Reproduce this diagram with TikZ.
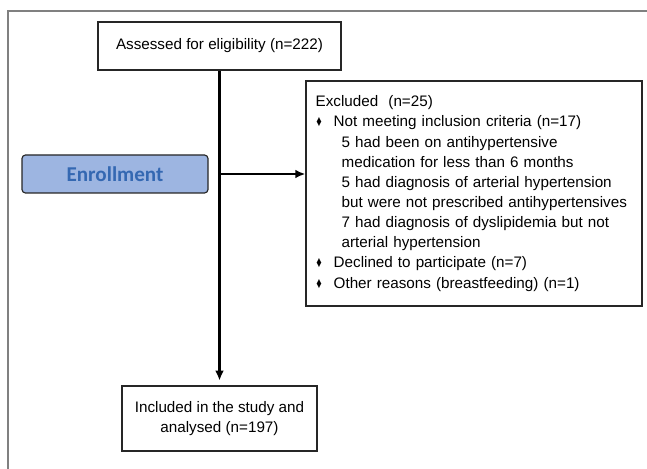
\documentclass[tikz,border=0pt]{standalone}
\usepackage{fontspec}
\setmainfont{Liberation Sans}
\newfontfamily\enrollfont{Carlito}
\usetikzlibrary{arrows.meta}

\definecolor{enrollfill}{RGB}{157,181,225}
\definecolor{enrolltext}{RGB}{52,104,178}
\definecolor{framegray}{RGB}{128,128,128}

\newcommand{\bul}{\makebox[0.54cm][l]{\hspace{0.02cm}\scalebox{0.7}[1]{♦}}}
\newcommand{\subl}{\hspace*{0.78cm}}

\tikzset{
  box/.style={draw=black!85,line width=1.1pt,align=center,inner sep=0pt},
  exbox/.style={draw=black!85,line width=1.1pt,align=left,text width=9.5cm,
    inner xsep=0.29cm,minimum height=6.75cm},
  enroll/.style={draw=black!85,line width=1pt,fill=enrollfill,rounded corners=3pt,
    minimum width=5.58cm,minimum height=1.14cm,
    font=\enrollfont\bfseries\fontsize{18}{20}\selectfont,text=enrolltext},
  flow/.style={line width=1.8pt,-{Latex[length=3mm,width=2.6mm]}}
}

\begin{document}
\begin{tikzpicture}[font=\fontsize{13}{17.2}\selectfont]
\useasboundingbox (0,0) rectangle (19.41,-14.07);
\draw[framegray,line width=1.5pt] (0.24,-14.07) -- (0.24,-0.33) -- (19.41,-0.33);

\node[box,minimum width=7.29cm,minimum height=1.44cm]  (assessed) at (6.585,-1.38)   {Assessed for eligibility (n=222)};
\node[enroll]                                          (enroll)   at (3.45,-5.22)    {Enrollment};
\node[exbox]                                           (excluded) at (14.22,-5.805)  {Excluded\ \ (n=25)\\
\bul Not meeting inclusion criteria (n=17)\\
\subl 5 had been on antihypertensive\\
\subl medication for less than 6 months\\
\subl 5 had diagnosis of arterial hypertension\\
\subl but were not prescribed antihypertensives\\
\subl 7 had diagnosis of dyslipidemia but not\\
\subl arterial hypertension\\
\bul Declined to participate (n=7)\\
\bul Other reasons (breastfeeding) (n=1)};
\node[box,minimum width=5.85cm,minimum height=1.95cm]  (included) at (6.585,-12.555) {Included in the study and\\ analysed (n=197)};

\path[flow] (assessed)           edge [shorten >=4pt] (included)
            (assessed |- enroll) edge                 (enroll -| excluded.west);

\end{tikzpicture}
\end{document}
